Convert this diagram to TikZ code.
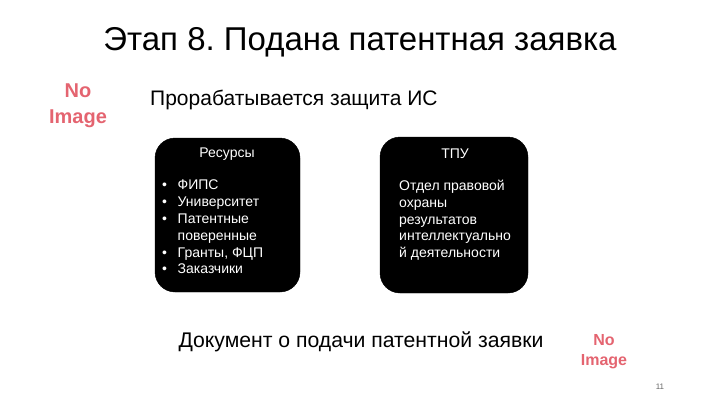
\documentclass[tikz,border=0pt]{standalone}
\usepackage{fontspec}
\setmainfont{Liberation Sans}
\frenchspacing
\definecolor{noimg}{RGB}{228,100,112}
\begin{document}
\begin{tikzpicture}[x=1pt,y=-1pt,
  box/.style={fill=black,draw=black,rounded corners=20pt},
  wt/.style={text=white,font=\fontsize{14}{16.8}\selectfont,inner sep=0pt},
  noimage/.style={text=noimg,align=center,font=\bfseries\fontsize{20}{26}\selectfont,inner sep=0pt}]
\useasboundingbox (0,0) rectangle (720,405);
\node[inner sep=0pt,font=\fontsize{33}{38}\selectfont] (title) at (360,42) {Этап 8. Подана патентная заявка};
\node[noimage] (ni1) at (78,106) {No\\Image};
\node[anchor=west,inner sep=0pt,font=\fontsize{21}{25}\selectfont] (sub) at (150,100) {Прорабатывается защита ИС};
\node[box,minimum width=145pt,minimum height=154pt] (b1) at (227.5,215) {};
\node[box,minimum width=148pt,minimum height=156pt] (b2) at (454,215) {};
\node[wt] (h1) at (227,154) {Ресурсы};
\node[wt] (h2) at (455,154) {ТПУ};
\node[wt,anchor=north west,align=left] (l1) at (162,180) {%
\makebox[15.5pt][l]{•}ФИПС\\
\makebox[15.5pt][l]{•}Университет\\
\makebox[15.5pt][l]{•}Патентные\\
\makebox[15.5pt][l]{}поверенные\\
\makebox[15.5pt][l]{•}Гранты, ФЦП\\
\makebox[15.5pt][l]{•}Заказчики};
\node[wt,anchor=north west,align=left] (l2) at (399,180) {Отдел правовой\\охраны\\результатов\\интеллектуально\\й деятельности};
\node[inner sep=0pt,font=\fontsize{21.2}{25}\selectfont] (doc) at (361,342) {Документ о подачи патентной заявки};
\node[noimage,font=\bfseries\fontsize{16}{20}\selectfont] (ni2) at (604,352) {No\\Image};
\node[inner sep=0pt,text=black!60,font=\fontsize{8}{9}\selectfont] (pg) at (660,387) {11};
\end{tikzpicture}
\end{document}
